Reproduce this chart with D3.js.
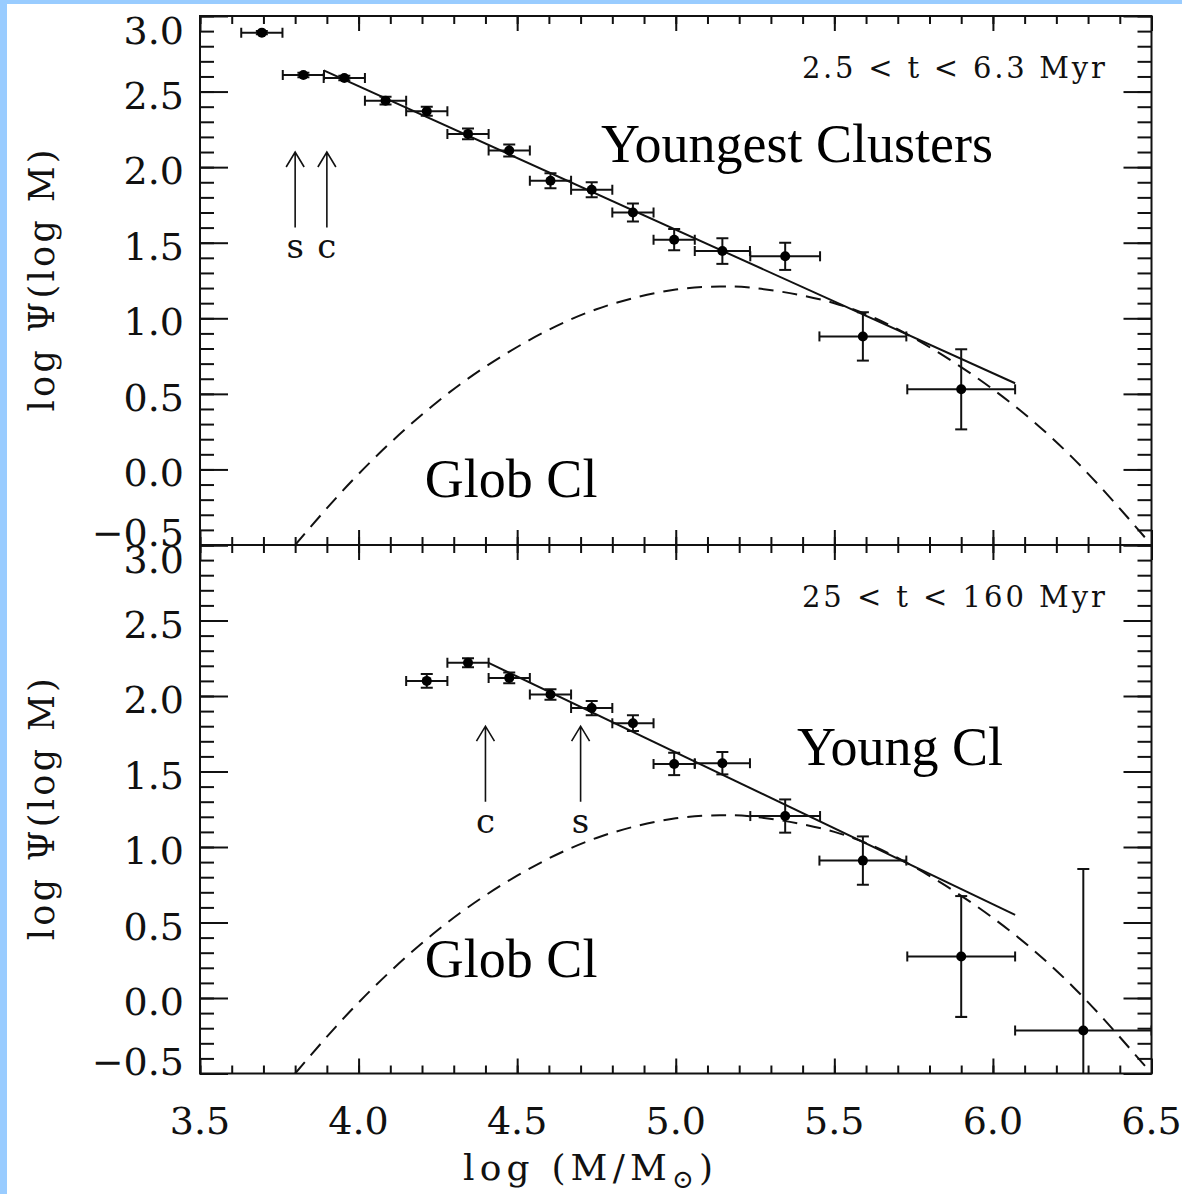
<!DOCTYPE html>
<html>
<head>
<meta charset="utf-8">
<script src="https://cdn.jsdelivr.net/npm/d3@7"></script>
<style>
body { margin: 0; background: #fff; }
svg { display: block; }
.num { font-family: "DejaVu Serif", serif; fill: #111; }
.tnr { font-family: "Liberation Serif", "Times New Roman", serif; fill: #000; }
</style>
</head>
<body>
<div id="chart"></div>
<script>
// tick values / labels
var massTicks = [3.5, 4.0, 4.5, 5.0, 5.5, 6.0, 6.5];
var massTickLabels = ["3.5", "4.0", "4.5", "5.0", "5.5", "6.0", "6.5"];
var psiTicks = [-0.5, 0.0, 0.5, 1.0, 1.5, 2.0, 2.5, 3.0];
var psiTickLabels = ["\u22120.5", "0.0", "0.5", "1.0", "1.5", "2.0", "2.5", "3.0"];

// youngest clusters, 2.5 < t < 6.3 Myr
var youngestMass = [3.695, 3.826, 3.955, 4.085, 4.215, 4.345, 4.475, 4.605, 4.735, 4.865, 4.995, 5.147, 5.345, 5.59, 5.90];
var youngestPsi = [2.89, 2.61, 2.59, 2.44, 2.37, 2.22, 2.11, 1.91, 1.85, 1.70, 1.52, 1.445, 1.41, 0.88, 0.53];
var youngestMassErr = [0.065, 0.065, 0.065, 0.065, 0.065, 0.065, 0.065, 0.065, 0.065, 0.065, 0.065, 0.087, 0.11, 0.137, 0.17];
var youngestPsiErr = [0.01, 0.015, 0.015, 0.025, 0.03, 0.035, 0.04, 0.05, 0.05, 0.06, 0.07, 0.085, 0.09, 0.16, 0.265];
var youngestFitMass = [3.89, 6.07];
var youngestFitPsi = [2.64, 0.57];

// young clusters, 25 < t < 160 Myr
var youngMass = [4.215, 4.345, 4.475, 4.605, 4.735, 4.865, 4.995, 5.147, 5.345, 5.59, 5.90, 6.285];
var youngPsi = [2.10, 2.22, 2.12, 2.01, 1.92, 1.82, 1.55, 1.555, 1.205, 0.91, 0.275, -0.215];
var youngMassErr = [0.065, 0.065, 0.065, 0.065, 0.065, 0.065, 0.065, 0.087, 0.11, 0.137, 0.17, 0.215];
var youngPsiErr = [0.045, 0.03, 0.035, 0.035, 0.047, 0.052, 0.074, 0.074, 0.11, 0.16, 0.40, 1.07];
var youngFitMass = [4.41, 6.07];
var youngFitPsi = [2.22, 0.55];

// globular cluster mass function (dashed), same in both panels
var globMass = [3.8, 4.0, 4.25, 4.5, 4.75, 5.0, 5.15, 5.25, 5.5, 5.75, 6.0, 6.25, 6.5];
var globPsi = [-0.50, -0.03, 0.45, 0.81, 1.06, 1.19, 1.21, 1.20, 1.10, 0.87, 0.53, 0.08, -0.50];

var W = 1182, H = 1194;

var svg = d3.select("#chart")
    .append("svg")
    .attr("width", W)
    .attr("height", H);

// light blue page edge
svg.append("rect").attr("x", 0).attr("y", 0).attr("width", W).attr("height", 4).attr("fill", "#99ccff");
svg.append("rect").attr("x", 0).attr("y", 0).attr("width", 7).attr("height", H).attr("fill", "#99ccff");

var x = d3.scaleLinear().domain([3.5, 6.5]).range([200, 1151.5]);

var minorX = d3.range(35, 66).map(function (i) { return i / 10; });
var minorY = d3.range(-5, 31).map(function (i) { return i / 10; });

var zip = function (m, p, me, pe) {
    return m.map(function (v, i) {
        return { m: v, p: p[i], me: me[i], pe: pe[i] };
    });
};

var panels = [
    {
        top: 16, bottom: 545,
        points: zip(youngestMass, youngestPsi, youngestMassErr, youngestPsiErr),
        fitM: youngestFitMass, fitP: youngestFitPsi,
        age: "2.5 < t < 6.3 Myr",
        big: [
            { text: "Youngest Clusters", m: 4.764, p: 2.034 },
            { text: "Glob Cl", m: 4.209, p: -0.182 }
        ],
        arrows: [
            { text: "s", m: 3.8, from: 1.6, to: 2.1, lab: 1.40 },
            { text: "c", m: 3.9, from: 1.6, to: 2.1, lab: 1.40 }
        ]
    },
    {
        top: 545, bottom: 1073.5,
        points: zip(youngMass, youngPsi, youngMassErr, youngPsiErr),
        fitM: youngFitMass, fitP: youngFitPsi,
        age: "25 < t < 160 Myr",
        big: [
            { text: "Young Cl", m: 5.382, p: 1.544 },
            { text: "Glob Cl", m: 4.209, p: 0.142 }
        ],
        arrows: [
            { text: "c", m: 4.4, from: 1.3, to: 1.8, lab: 1.094 },
            { text: "s", m: 4.7, from: 1.3, to: 1.8, lab: 1.094 }
        ]
    }
];

var noDomain = function (s) {
    s.select(".domain").remove();
    s.selectAll(".tick line").attr("stroke-width", 2).attr("stroke", "#111");
};

panels.forEach(function (p, pi) {
    var y = d3.scaleLinear().domain([-0.5, 3.0]).range([p.bottom, p.top]);
    var g = svg.append("g");

    // ticks on all four sides, pointing in
    g.append("g").attr("transform", "translate(200,0)")
        .call(d3.axisLeft(y).tickValues(minorY).tickSize(-14).tickFormat("")).call(noDomain);
    g.append("g").attr("transform", "translate(200,0)")
        .call(d3.axisLeft(y).tickValues(psiTicks).tickSize(-28).tickFormat("")).call(noDomain);
    g.append("g").attr("transform", "translate(1151.5,0)")
        .call(d3.axisRight(y).tickValues(minorY).tickSize(-14).tickFormat("")).call(noDomain);
    g.append("g").attr("transform", "translate(1151.5,0)")
        .call(d3.axisRight(y).tickValues(psiTicks).tickSize(-28).tickFormat("")).call(noDomain);
    g.append("g").attr("transform", "translate(0," + p.top + ")")
        .call(d3.axisTop(x).tickValues(minorX).tickSize(-8).tickFormat("")).call(noDomain);
    g.append("g").attr("transform", "translate(0," + p.top + ")")
        .call(d3.axisTop(x).tickValues(massTicks).tickSize(-15).tickFormat("")).call(noDomain);
    g.append("g").attr("transform", "translate(0," + p.bottom + ")")
        .call(d3.axisBottom(x).tickValues(minorX).tickSize(-8).tickFormat("")).call(noDomain);
    g.append("g").attr("transform", "translate(0," + p.bottom + ")")
        .call(d3.axisBottom(x).tickValues(massTicks).tickSize(-15).tickFormat("")).call(noDomain);

    g.append("rect")
        .attr("x", 200).attr("y", p.top)
        .attr("width", 951.5).attr("height", p.bottom - p.top)
        .attr("fill", "none").attr("stroke", "#111").attr("stroke-width", 2);

    // y tick labels, kept inside the panel at the ends (the -0.5 / 3.0 pair overlaps as in the original)
    g.selectAll("text.ylab")
        .data(psiTicks)
        .enter()
        .append("text")
        .attr("class", "num")
        .attr("text-anchor", "end")
        .attr("x", 184)
        .attr("y", function (d) {
            return Math.max(p.top + 28, Math.min(p.bottom + 1, y(d) + 17));
        })
        .style("font-size", "38px")
        .text(function (d, i) { return psiTickLabels[i]; });

    // axis title
    g.append("text")
        .attr("class", "num")
        .attr("text-anchor", "middle")
        .attr("transform", "translate(54," + ((p.top + p.bottom) / 2) + ") rotate(-90)")
        .attr("textLength", 262)
        .attr("lengthAdjust", "spacing")
        .style("font-size", "35px")
        .text("log \u03a8(log M)");

    var clipId = "clip" + pi;
    svg.append("clipPath").attr("id", clipId)
        .append("rect")
        .attr("x", 200).attr("y", p.top)
        .attr("width", 951.5).attr("height", p.bottom - p.top);

    var plot = g.append("g").attr("clip-path", "url(#" + clipId + ")");

    // globular cluster curve
    var globLine = d3.line()
        .x(function (d) { return x(d[0]); })
        .y(function (d) { return y(d[1]); })
        .curve(d3.curveNatural);
    plot.append("path")
        .attr("d", globLine(globMass.map(function (m, i) { return [m, globPsi[i]]; })))
        .attr("fill", "none")
        .attr("stroke", "#111")
        .attr("stroke-width", 2)
        .attr("stroke-dasharray", "15,9");

    // power-law fit
    plot.append("path")
        .attr("d", d3.line()(p.fitM.map(function (m, i) { return [x(m), y(p.fitP[i])]; })))
        .attr("fill", "none")
        .attr("stroke", "#111")
        .attr("stroke-width", 2);

    // error bars + points
    var pts = plot.selectAll("g.pt")
        .data(p.points)
        .enter()
        .append("g")
        .attr("class", "pt")
        .attr("stroke", "#111")
        .attr("stroke-width", 2);

    pts.append("line")
        .attr("x1", function (d) { return x(d.m - d.me); })
        .attr("x2", function (d) { return x(d.m + d.me); })
        .attr("y1", function (d) { return y(d.p); })
        .attr("y2", function (d) { return y(d.p); });
    pts.append("line")
        .attr("x1", function (d) { return x(d.m); })
        .attr("x2", function (d) { return x(d.m); })
        .attr("y1", function (d) { return y(d.p - d.pe); })
        .attr("y2", function (d) { return y(d.p + d.pe); });
    [-1, 1].forEach(function (s) {
        pts.append("line")
            .attr("x1", function (d) { return x(d.m + s * d.me); })
            .attr("x2", function (d) { return x(d.m + s * d.me); })
            .attr("y1", function (d) { return y(d.p) - 5; })
            .attr("y2", function (d) { return y(d.p) + 5; });
        pts.append("line")
            .attr("x1", function (d) { return x(d.m) - 6; })
            .attr("x2", function (d) { return x(d.m) + 6; })
            .attr("y1", function (d) { return y(d.p + s * d.pe); })
            .attr("y2", function (d) { return y(d.p + s * d.pe); });
    });
    pts.append("circle")
        .attr("cx", function (d) { return x(d.m); })
        .attr("cy", function (d) { return y(d.p); })
        .attr("r", 5)
        .attr("fill", "#000")
        .attr("stroke", "none");

    // arrows marking completeness limits
    p.arrows.forEach(function (a) {
        var ax = x(a.m), y0 = y(a.from), y1 = y(a.to);
        g.append("path")
            .attr("d", "M" + ax + "," + y0 + "V" + y1 + "M" + (ax - 9) + "," + (y1 + 15) + "L" + ax + "," + y1 + "L" + (ax + 9) + "," + (y1 + 15))
            .attr("fill", "none")
            .attr("stroke", "#111")
            .attr("stroke-width", 1.6);
        g.append("text")
            .attr("class", "num")
            .attr("text-anchor", "middle")
            .attr("x", ax)
            .attr("y", y(a.lab))
            .style("font-size", "34px")
            .text(a.text);
    });

    // age range
    g.append("text")
        .attr("class", "num")
        .attr("text-anchor", "end")
        .attr("x", x(6.353))
        .attr("y", y(2.59))
        .attr("textLength", 303)
        .attr("lengthAdjust", "spacing")
        .style("font-size", "29px")
        .text(p.age);

    p.big.forEach(function (b) {
        g.append("text")
            .attr("class", "tnr")
            .attr("x", x(b.m))
            .attr("y", y(b.p))
            .style("font-size", "54px")
            .text(b.text);
    });

    // mass labels only under the lower panel
    if (pi === panels.length - 1) {
        g.selectAll("text.xlab")
            .data(massTicks)
            .enter()
            .append("text")
            .attr("class", "num")
            .attr("text-anchor", "middle")
            .attr("x", function (d) { return x(d); })
            .attr("y", 1134)
            .style("font-size", "38px")
            .text(function (d, i) { return massTickLabels[i]; });

        var xt = g.append("text")
            .attr("class", "num")
            .attr("x", 463)
            .attr("y", 1180)
            .attr("textLength", 250)
            .attr("lengthAdjust", "spacing")
            .style("font-size", "36px");
        xt.append("tspan").text("log (M/M");
        xt.append("tspan").attr("dy", 8).style("font-size", "26px").text("\u2299");
        xt.append("tspan").attr("dy", -8).text(")");
    }
});
</script>
</body>
</html>
